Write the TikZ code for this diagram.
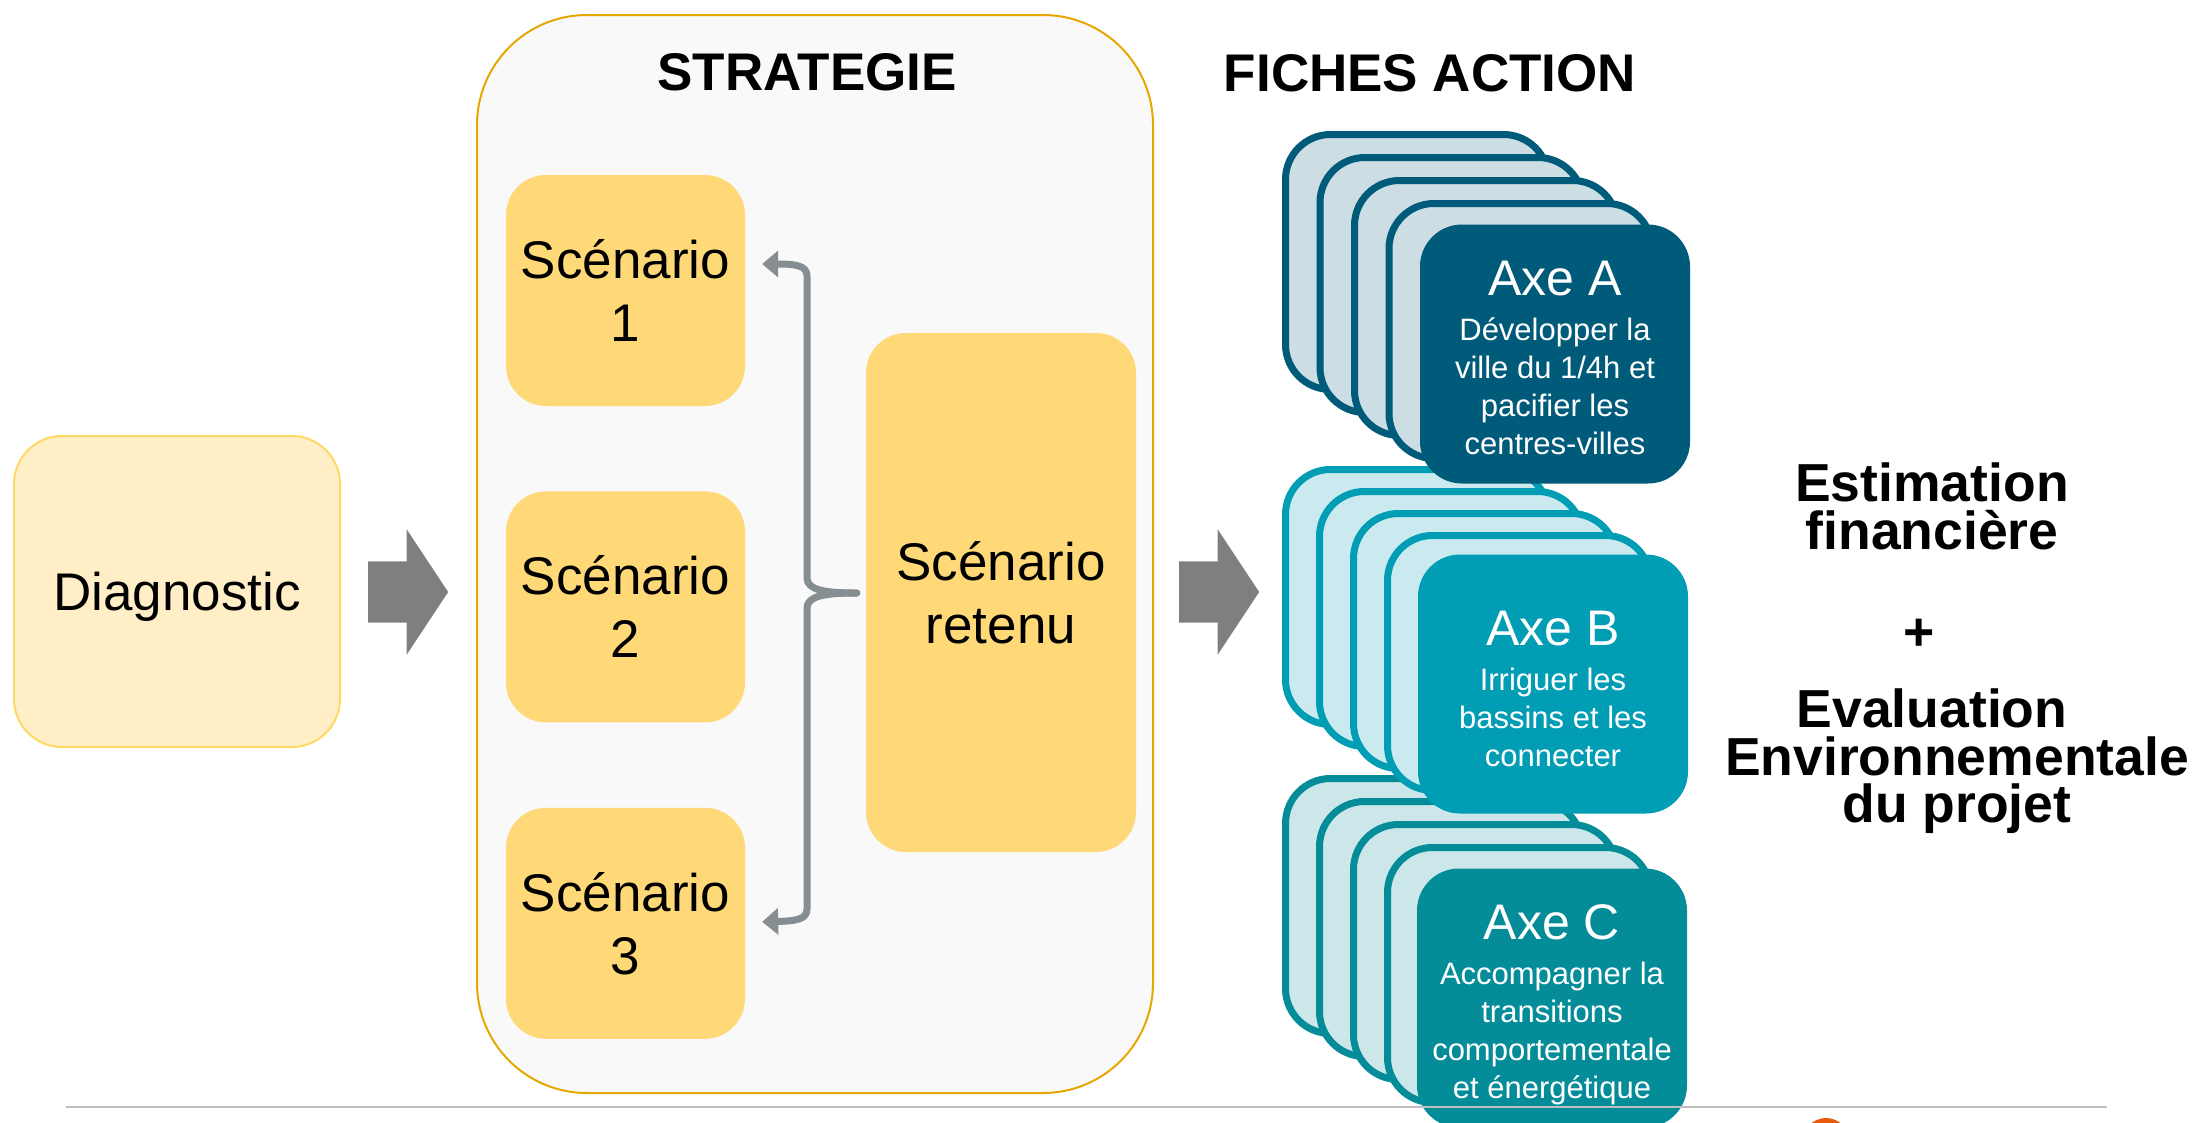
\documentclass[tikz,border=0pt]{standalone}
\usepackage{fontspec}
\setmainfont{Liberation Sans}
\usetikzlibrary{positioning, arrows.meta, shapes.arrows}

\definecolor{axeA}{HTML}{005A7A}
\definecolor{axeAbg}{HTML}{CCDDE3}
\definecolor{axeB}{HTML}{009DB5}
\definecolor{axeBbg}{HTML}{CBEAF0}
\definecolor{axeC}{HTML}{058C99}
\definecolor{axeCbg}{HTML}{CCE7EA}
\definecolor{scenyellow}{HTML}{FFD978}
\definecolor{diagfill}{HTML}{FFEEC6}
\definecolor{diagline}{HTML}{FFD966}
\definecolor{stratline}{HTML}{E6A800}
\definecolor{stratfill}{HTML}{F9F9F9}
\definecolor{bracegray}{HTML}{878E92}
\definecolor{arrowgray}{HTML}{7F7F7F}
\definecolor{footline}{HTML}{BFBFBF}
\definecolor{footdot}{HTML}{E8590C}

\newcommand{\scenfont}{\fontsize{53}{63}\selectfont}
\newcommand{\headfont}{\fontsize{53}{53}\selectfont\bfseries}
\newcommand{\axefont}{\fontsize{50}{50}\selectfont}
\newcommand{\descfont}{\fontsize{31}{38}\selectfont}

\tikzset{
  ybox/.style={fill=scenyellow, rounded corners=40pt, align=center, font=\scenfont, inner sep=0pt},
  cardback/.style={draw=#1, fill=#1bg, line width=7pt, rounded corners=45pt,
    minimum width=263pt, minimum height=255pt},
  cardfront/.style={fill=#1, rounded corners=42pt, minimum width=270pt, minimum height=259pt},
  cardtext/.style={text=white, align=center, font=\descfont, inner sep=0pt},
  bigarrow/.style={single arrow, fill=arrowgray, draw=none, minimum height=80pt,
    minimum width=125pt, single arrow head extend=32pt, single arrow tip angle=113,
    inner xsep=0pt, inner ysep=30.5pt},
}

\begin{document}
\begin{tikzpicture}[x=1pt, y=-1pt]
	\tikzstyle{container}=[draw=stratline, fill=stratfill, line width=2pt, rounded corners=110pt, minimum width=676pt, minimum height=1078pt]
	\tikzstyle{diag}=[draw=diagline, fill=diagfill, line width=2pt, rounded corners=48pt, minimum width=326pt, minimum height=311pt, font=\scenfont, text depth=0pt]
	\tikzstyle{headtext}=[font=\headfont, inner sep=0pt]
	\tikzstyle{sidetext}=[font=\fontsize{53.5}{47.5}\selectfont\bfseries, align=center, inner sep=0pt]
	\tikzstyle{brace}=[draw=bracegray, line width=7pt, line cap=round, line join=round, -{Triangle[length=16pt, width=26pt]}]

	\useasboundingbox (0,0) rectangle (2193,1122);
	\clip (0,0) rectangle (2193,1122);

	% diagnostic
	\node[diag] (diag) at (177,591.5) {Diagnostic};
	\node[bigarrow] (arr1) at (398,592) {};

	% strategie
	\node[container] (strat) at (815,554) {};
	\node[headtext] (stratlbl) at (807,72.5) {STRATEGIE};
	\node[ybox, minimum width=239pt, minimum height=231pt] (s1) at (625.5,290.5) {Scénario\\1};
	\node[ybox, minimum width=239pt, minimum height=231pt, below=85pt of s1] (s2) {Scénario\\2};
	\node[ybox, minimum width=239pt, minimum height=231pt, below=85pt of s2] (s3) {Scénario\\3};
	\node[ybox, minimum width=270pt, minimum height=519pt] (retenu) at (1001,592.5) {Scénario\\retenu};

	\coordinate (cusp) at ([xshift=-9pt, yshift=-0.5pt]retenu.west);
	\coordinate (t1) at ([xshift=17pt, yshift=26.5pt]s1.east);
	\coordinate (t3) at ([xshift=17pt, yshift=1.5pt]s3.east);
	\draw[brace] (cusp) .. controls (825,593) and (807,590) .. (807,578) -- (807,276)
		.. controls (807,266) and (797,264) .. (t1);
	\draw[brace] (cusp) .. controls (825,593) and (807,596) .. (807,608) -- (807,909)
		.. controls (807,919) and (797,921) .. (t3);

	% fiches action
	\node[bigarrow] (arr2) at (1209,592) {};
	\node[headtext] (ficheslbl) at (1430,73) {FICHES ACTION};

	\foreach \k in {0,...,3}
		\node[cardback=axeC] (c\k) at ({1417+34*\k},{906+23*\k}) {};
	\node[cardfront=axeC] (axC) at (1552,998) {};
	\node[cardtext] at ([yshift=-7pt]axC.center) {{\axefont Axe C}\\[7pt]Accompagner la\\transitions\\comportementale\\et énergétique};

	\foreach \k in {0,...,3}
		\node[cardback=axeB] (b\k) at ({1417+34*\k},{597+22*\k}) {};
	\node[cardfront=axeB] (axB) at (1553,684) {};
	\node[cardtext] at ([yshift=-5pt]axB.center) {{\axefont Axe B}\\[7pt]Irriguer les\\bassins et les\\connecter};

	\foreach \k in {0,...,3}
		\node[cardback=axeA] (a\k) at ({1417+34.5*\k},{262+23*\k}) {};
	\node[cardfront=axeA] (axA) at (1555,354) {};
	\node[cardtext] at ([yshift=-4pt]axA.center) {{\axefont Axe A}\\[7pt]Développer la\\ville du 1/4h et\\pacifier les\\centres-villes};

	% right side
	\node[sidetext] (est) at (1932,506.5) {Estimation\\financière};
	\node[sidetext, below=69pt of est, xshift=-13pt] (plus) {+};
	\node[sidetext, below=38pt of plus, xshift=38pt] (evalu) {Evaluation\hspace*{50pt}\\Environnementale\\du projet};

	% footer
	\draw[footline, line width=2pt] (66,1107) -- (2107,1107);
	\fill[footdot] (1826,1141) circle (23);
\end{tikzpicture}
\end{document}
